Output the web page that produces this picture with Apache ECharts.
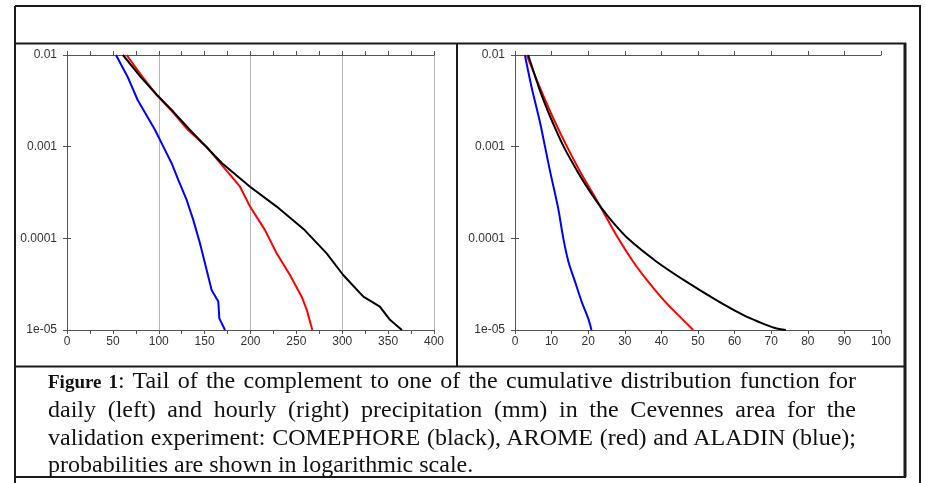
<!DOCTYPE html>
<html>
<head>
<meta charset="utf-8">
<script src="https://cdn.jsdelivr.net/npm/echarts@6/dist/echarts.min.js"></script>
<style>
  body { margin: 0; background: #fff; }
  #wrap { position: relative; width: 925px; height: 483px; }
  #main { position: absolute; left: 0; top: 0; width: 925px; height: 483px; }
  #caption {
    position: absolute; left: 48px; top: 367px; width: 808px;
    font-family: 'Liberation Serif', 'Times New Roman', serif;
    font-size: 24px; line-height: 27.8px; color: #111;
  }
  #caption div { text-align: justify; text-align-last: justify; }
  #caption div.last { text-align-last: left; }
  #caption b { font-size: 19px; }
</style>
</head>
<body>
<div id="wrap">
  <div id="main"></div>
  <div id="caption">
    <div><b>Figure 1</b>: Tail of the complement to one of the cumulative distribution function for</div>
    <div>daily (left) and hourly (right) precipitation (mm) in the Cevennes area for the</div>
    <div>validation experiment: COMEPHORE (black), AROME (red) and ALADIN (blue);</div>
    <div class="last">probabilities are shown in logarithmic scale.</div>
  </div>
</div>
<script>
// daily precipitation (mm) vs exceedance probability
var dailyComephore = [
  [61, 1e-2], [80, 5.8e-3], [98, 3.66e-3], [116, 2.4e-3], [134, 1.52e-3],
  [169, 6.6e-4], [199.5, 3.66e-4], [228.5, 2.22e-4], [259, 1.23e-4],
  [283, 6.86e-5], [301, 3.98e-5], [323, 2.31e-5], [341, 1.8e-5],
  [352, 1.29e-5], [365, 1e-5]
]
var dailyArome = [
  [65, 1e-2], [82, 5.8e-3], [98, 3.66e-3], [115, 2.4e-3], [132, 1.52e-3],
  [152, 1e-3], [167, 6.6e-4], [188.6, 3.66e-4], [199.5, 2.22e-4],
  [215.8, 1.23e-4], [228.5, 6.86e-5], [243, 3.98e-5], [255.8, 2.31e-5],
  [261.3, 1.66e-5], [267.4, 1e-5]
]
var dailyAladin = [
  [53.4, 1e-2], [66, 5.8e-3], [77, 3.23e-3], [96, 1.52e-3], [105, 1e-3],
  [114, 6.6e-4], [121.3, 4.33e-4], [130.4, 2.62e-4], [137.7, 1.58e-4],
  [145, 8.8e-5], [152.2, 4.52e-5], [157.6, 2.73e-5], [164.9, 2.04e-5],
  [166, 1.34e-5], [172.2, 1e-5]
]

// hourly precipitation (mm)
var hourlyComephore = [
  [3.6, 1e-2], [6.6, 4.33e-3], [8.3, 2.85e-3], [10.2, 1.87e-3], [13.3, 1e-3],
  [17.1, 5.34e-4], [20.5, 3.23e-4], [23.7, 2.12e-4], [26.6, 1.52e-4],
  [30.8, 1e-4], [38.7, 5.56e-5], [46.8, 3.37e-5], [55.7, 2.04e-5],
  [62.3, 1.46e-5], [66.5, 1.23e-5], [71, 1.05e-5], [74, 1e-5]
]
var hourlyArome = [
  [3.2, 1e-2], [6.9, 4.33e-3], [10.9, 1.87e-3], [14.2, 1e-3], [17.8, 5.34e-4],
  [21.0, 3.23e-4], [23.6, 2.12e-4], [28.2, 1e-4], [32.3, 5.56e-5],
  [36.4, 3.37e-5], [41.0, 2.04e-5], [45.5, 1.34e-5], [48.7, 1e-5]
]
var hourlyAladin = [
  [2.7, 1e-2], [4.6, 4.33e-3], [6.8, 1.87e-3], [8.2, 1e-3], [9.6, 5.34e-4],
  [11.8, 2.12e-4], [13.2, 1e-4], [14.6, 5.56e-5], [16.4, 3.37e-5],
  [18.2, 2.04e-5], [20.0, 1.34e-5], [20.9, 1e-5]
]

var probLabels = { '0.01': '0.01', '0.001': '0.001', '0.0001': '0.0001', '0.00001': '1e-05' }

var axisColor = '#555'
var labelFont = { fontFamily: 'Liberation Sans', fontSize: 12, color: '#333' }

function xAxisOf(grid, max, step, pos, withLabel, minor) {
  return {
    type: 'value', gridIndex: grid, position: pos, min: 0, max: max, interval: step,
    axisLine: { show: true, onZero: false, lineStyle: { color: axisColor, width: 1 } },
    axisTick: { show: true, inside: false, length: 4, lineStyle: { color: axisColor } },
    minorTick: { show: minor, splitNumber: 2, length: 4, lineStyle: { color: axisColor } },
    axisLabel: Object.assign({ show: withLabel, margin: 6 }, labelFont),
    splitLine: { show: false }
  }
}

function yAxisOf(grid, pos, withLabel) {
  return {
    type: 'log', logBase: 10, gridIndex: grid, position: pos, min: 1e-5, max: 1e-2,
    axisLine: { show: true, lineStyle: { color: axisColor, width: 1 } },
    axisTick: { show: true, inside: false, length: 4, lineStyle: { color: axisColor } },
    axisLabel: Object.assign({
      show: withLabel, margin: 10,
      formatter: function (v) {
        var key = String(+v.toPrecision(3))
        if (key === '1e-5') key = '0.00001'
        return probLabels[key] || ''
      }
    }, labelFont),
    splitLine: { show: false }
  }
}

function line(x1, y1, x2, y2, w) {
  return { type: 'line', shape: { x1: x1, y1: y1, x2: x2, y2: y2 },
    style: { stroke: '#1a1a1a', lineWidth: w || 2 }, z: 100 }
}

function curve(data, color, xi, yi, z, smooth) {
  return { type: 'line', data: data, xAxisIndex: xi, yAxisIndex: yi,
    showSymbol: false, symbol: 'none', smooth: smooth || false, z: z,
    lineStyle: { color: color, width: 2 } }
}

var myChart = echarts.init(document.getElementById('main'))

var option = {
  backgroundColor: '#fff',
  animation: false,
  grid: [
    { left: 67, top: 55, width: 367, height: 275 },
    { left: 515, top: 55, width: 366, height: 275 }
  ],
  xAxis: [
    xAxisOf(0, 400, 50, 'bottom', true, true),
    xAxisOf(0, 400, 50, 'top', false, true),
    {
      type: 'value', gridIndex: 0, position: 'bottom', min: 0, max: 400, interval: 100,
      axisLine: { show: false }, axisTick: { show: false }, axisLabel: { show: false },
      splitLine: { show: true, lineStyle: { color: '#b8b8b8', width: 1 } }
    },
    xAxisOf(1, 100, 10, 'bottom', true, false),
    xAxisOf(1, 100, 10, 'top', false, false)
  ],
  yAxis: [
    yAxisOf(0, 'left', true),
    yAxisOf(0, 'right', false),
    yAxisOf(1, 'left', true),
    yAxisOf(1, 'right', false)
  ],
  series: [
    curve(dailyAladin, '#0000ff', 0, 0, 2),
    curve(dailyArome, '#ff0000', 0, 0, 3),
    curve(dailyComephore, '#000000', 0, 0, 4),
    curve(hourlyAladin, '#0000ff', 3, 2, 2, 0.3),
    curve(hourlyArome, '#ff0000', 3, 2, 3, 0.3),
    curve(hourlyComephore, '#000000', 3, 2, 4, 0.3)
  ],
  graphic: [
    line(15, 6, 921, 6),
    line(15, 6, 15, 483),
    line(920, 6, 920, 483),
    line(15, 43.5, 906, 43.5),
    line(457, 43, 457, 366),
    line(905, 43, 905, 477, 3),
    line(15, 366.5, 906, 366.5),
    line(15, 477, 906, 477)
  ]
}

myChart.setOption(option)
window.onresize = function () { myChart.resize() }
</script>
</body>
</html>
